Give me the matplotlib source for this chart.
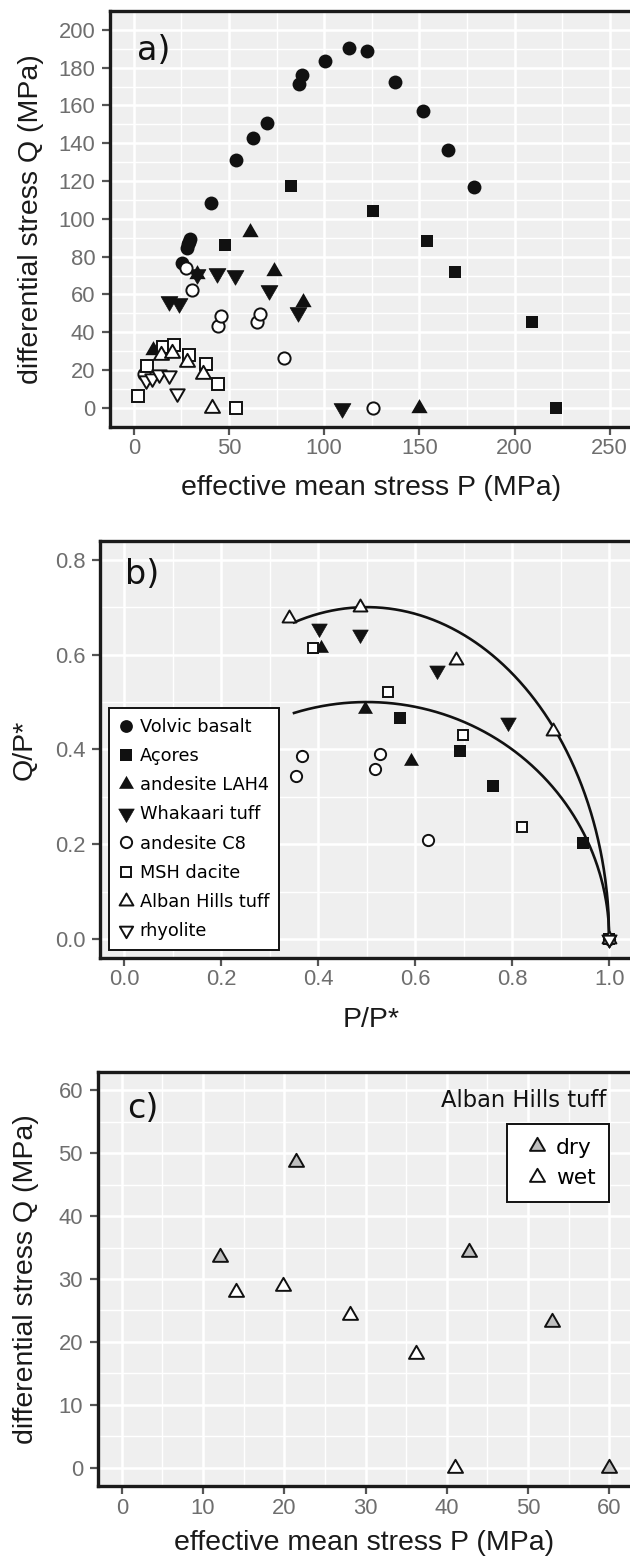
import numpy as np
import matplotlib
matplotlib.use("Agg")
from matplotlib import pyplot as plt
from matplotlib.path import Path

plt.rcParams['font.family'] = ['Liberation Sans', 'DejaVu Sans']

# ---- panel a: Q vs P (MPa)
volvic_P = [25.4, 27.8, 28.3, 29.0, 29.7, 40.7, 53.7, 62.4, 70.0, 86.9, 88.3, 100.6, 113.1, 122.4, 137.2, 152.1, 165.2, 178.5]
volvic_Q = [76.5, 84.5, 86.5, 88.0, 89.5, 108.5, 131.4, 142.8, 150.9, 171.5, 175.9, 183.3, 190.3, 188.7, 172.4, 157.2, 136.3, 116.8]
acores_P = [48.1, 82.7, 125.5, 153.9, 168.5, 209.4, 221.7]
acores_Q = [86.2, 117.3, 104.3, 88.4, 72.1, 45.2, 0]
lah4_P = [10.2, 33.2, 60.8, 73.9, 88.8, 149.8]
lah4_Q = [30.8, 70.8, 92.8, 72.5, 55.8, 0]
whakaari_P = [18.4, 23.6, 33.2, 43.7, 53.3, 70.8, 86.5, 109.3]
whakaari_Q = [56.4, 55.4, 70.8, 71.2, 70.3, 62.1, 50.5, 0]
c8_P = [5.2, 27.5, 30.6, 44.3, 46.0, 64.7, 66.4, 78.7, 125.5]
c8_Q = [17.9, 74.2, 62.4, 43.4, 48.7, 45.2, 49.6, 26.4, 0]
msh_P = [2.1, 7.0, 15.4, 21.0, 29.2, 38.0, 44.0, 53.9]
msh_Q = [6.5, 22.0, 32.0, 33.0, 28.1, 23.2, 12.8, 0]
rhyo_P = [6.5, 9.6, 13.1, 18.4, 22.6]
rhyo_Q = [14.5, 16.0, 17.8, 17.3, 7.6]

# Alban Hills tuff (panel c, wet ones also in panel a)
alban_wet_P = [14.1, 19.9, 28.1, 36.2, 41.0]
alban_wet_Q = [27.9, 28.8, 24.2, 18.1, 0]
alban_dry_P = [12.1, 21.4, 42.7, 53.0, 60.0]
alban_dry_Q = [33.5, 48.6, 34.3, 23.2, 0]

# ---- panel b: normalised Q/P* vs P/P*
volvic_b_x, volvic_b_y = [], []
acores_b_x = [0.568, 0.693, 0.761, 0.946, 1.0]
acores_b_y = [0.467, 0.397, 0.323, 0.203, 0.0]
lah4_b_x = [0.406, 0.496, 0.592, 1.0]
lah4_b_y = [0.613, 0.485, 0.375, 0.0]
whakaari_b_x = [0.401, 0.4865, 0.644, 0.7905, 1.0]
whakaari_b_y = [0.657, 0.643, 0.567, 0.457, 0.0]
c8_b_x = [0.354, 0.367, 0.517, 0.528, 0.626, 1.0]
c8_b_y = [0.344, 0.386, 0.358, 0.391, 0.209, 0.0]
msh_b_x = [0.389, 0.544, 0.699, 0.820, 1.0]
msh_b_y = [0.613, 0.522, 0.431, 0.236, 0.0]
alban_b_x = [0.339, 0.486, 0.685, 0.883, 1.0]
alban_b_y = [0.677, 0.701, 0.589, 0.439, 0.0]
rhyo_b_x = [1.0]
rhyo_b_y = [0.0]

# elliptical caps: centre, heights, start
cap_centre = 0.5
cap_heights = [0.70, 0.50]
cap_start = 0.35

labels = ["Volvic basalt", "Açores", "andesite LAH4", "Whakaari tuff",
          "andesite C8", "MSH dacite", "Alban Hills tuff", "rhyolite"]

up = Path([(0, 1), (0.866, -0.5), (-0.866, -0.5), (0, 1)],
          [Path.MOVETO, Path.LINETO, Path.LINETO, Path.CLOSEPOLY])
down = Path([(0, -1), (0.866, 0.5), (-0.866, 0.5), (0, -1)],
            [Path.MOVETO, Path.LINETO, Path.LINETO, Path.CLOSEPOLY])

K = '#111111'
styles = [
    dict(marker='o', ms=10.0, mfc=K, mec=K, mew=0),
    dict(marker='s', ms=9.0, mfc=K, mec=K, mew=0),
    dict(marker=up, ms=13.5, mfc=K, mec=K, mew=0),
    dict(marker=down, ms=14.0, mfc=K, mec=K, mew=0.5),
    dict(marker='o', ms=8.8, mfc='white', mec=K, mew=1.4),
    dict(marker='s', ms=8.0, mfc='white', mec=K, mew=1.4),
    dict(marker=up, ms=12.5, mfc='white', mec=K, mew=1.4),
    dict(marker=down, ms=12.0, mfc='white', mec=K, mew=1.4),
]

W, H = 630, 1562
fig = plt.figure(figsize=(W / 100, H / 100), dpi=100)


def box(l, t, r, b):
    return [l / W, 1 - b / H, (r - l) / W, (b - t) / H]


def style(ax, xmaj, xmin, ymaj, ymin, xl, yl):
    ax.set_facecolor('#EFEFEF')
    ax.set_xticks(xmaj)
    ax.set_xticks(xmin, minor=True)
    ax.set_yticks(ymaj)
    ax.set_yticks(ymin, minor=True)
    ax.grid(which='major', color='white', lw=1.8)
    ax.grid(which='minor', color='white', lw=1.0)
    ax.set_axisbelow(True)
    ax.tick_params(which='minor', length=0)
    ax.tick_params(which='major', length=6, width=1.6, color='#555555',
                   labelsize=15.8, labelcolor='#6E6E6E')
    ax.tick_params(axis='x', pad=2)
    ax.tick_params(axis='y', pad=4.5)
    for s in ax.spines.values():
        s.set_linewidth(2.4)
        s.set_color('#1A1A1A')
    ax.set_xlim(*xl)
    ax.set_ylim(*yl)


# ---------------- a)
ax = fig.add_axes(box(110, 11, 633.5, 426.7))
style(ax, np.arange(0, 251, 50), np.arange(25, 251, 50),
      np.arange(0, 201, 20), np.arange(10, 201, 20), (-12.5, 262.5), (-10, 210))
series_a = [(volvic_P, volvic_Q), (acores_P, acores_Q), (lah4_P, lah4_Q),
            (whakaari_P, whakaari_Q), (c8_P, c8_Q), (msh_P, msh_Q),
            (alban_wet_P, alban_wet_Q), (rhyo_P, rhyo_Q)]
for (x, y), st in zip(series_a, styles):
    ax.plot(x, y, ls='none', zorder=3, **st)
ax.set_xlabel("effective mean stress P (MPa)", fontsize=20.5, color='#1A1A1A')
ax.set_ylabel("differential stress Q (MPa)", fontsize=20.5, color='#1A1A1A')
ax.xaxis.set_label_coords(0.498, -0.148)
ax.yaxis.set_label_coords(-0.151, 0.5)
ax.xaxis.label.set_va('center')
ax.yaxis.label.set_va('center')
ax.text(0.051, 0.906, "a)", transform=ax.transAxes, fontsize=24,
        family='DejaVu Sans', va='center', ha='left', color='#111111')

# ---------------- b)
ax = fig.add_axes(box(100, 540.7, 633.5, 958.3))
style(ax, np.arange(0, 1.01, 0.2), np.arange(0.1, 1.01, 0.2),
      np.arange(0, 0.81, 0.2), np.arange(0.1, 0.81, 0.2), (-0.05, 1.05), (-0.04, 0.84))
ax.xaxis.set_major_formatter(plt.FormatStrFormatter('%.1f'))
ax.yaxis.set_major_formatter(plt.FormatStrFormatter('%.1f'))
pp = np.linspace(cap_start, 1, 400)
for d in cap_heights:
    qq = d * np.sqrt(np.clip(1 - ((pp - cap_centre) / (1 - cap_centre)) ** 2, 0, None))
    ax.plot(pp, qq, color=K, lw=1.9, zorder=2)
series_b = [(volvic_b_x, volvic_b_y), (acores_b_x, acores_b_y), (lah4_b_x, lah4_b_y),
            (whakaari_b_x, whakaari_b_y), (c8_b_x, c8_b_y), (msh_b_x, msh_b_y),
            (alban_b_x, alban_b_y), (rhyo_b_x, rhyo_b_y)]
for (x, y), st, lab in zip(series_b, styles, labels):
    st = dict(st)
    st['ms'] = st['ms'] * 0.92
    ax.plot(x, y, ls='none', zorder=3, label=lab, **st)
leg = ax.legend(loc='lower left', bbox_to_anchor=(0.0174, 0.0199), borderaxespad=0,
                prop=dict(family='DejaVu Sans', size=12.8), frameon=True, fancybox=False,
                handlelength=0.8, handletextpad=0.36, borderpad=0.55, labelspacing=0.63,
                numpoints=1)
leg.get_frame().set_edgecolor('#111111')
leg.get_frame().set_linewidth(1.4)
leg.get_frame().set_alpha(1)
ax.set_xlabel("P/P*", fontsize=20.5, color='#1A1A1A')
ax.set_ylabel("Q/P*", fontsize=20.5, color='#1A1A1A')
ax.xaxis.set_label_coords(0.509, -0.148)
ax.yaxis.set_label_coords(-0.1406, 0.5)
ax.xaxis.label.set_va('center')
ax.yaxis.label.set_va('center')
ax.text(0.047, 0.918, "b)", transform=ax.transAxes, fontsize=24,
        family='DejaVu Sans', va='center', ha='left', color='#111111')

# ---------------- c)
ax = fig.add_axes(box(97.5, 1071.5, 633.5, 1486.4))
style(ax, np.arange(0, 61, 10), np.arange(5, 61, 10),
      np.arange(0, 61, 10), np.arange(5, 61, 10), (-3, 63), (-3, 63))
ax.plot(alban_dry_P, alban_dry_Q, ls='none', marker=up, ms=12.5, mfc='#BFBFBF',
        mec=K, mew=1.4, zorder=3, label='dry')
ax.plot(alban_wet_P, alban_wet_Q, ls='none', marker=up, ms=12.5, mfc='white',
        mec=K, mew=1.4, zorder=3, label='wet')
leg = ax.legend(loc='upper right', bbox_to_anchor=(0.9543, 0.8735), borderaxespad=0,
                prop=dict(family='DejaVu Sans', size=15.7), frameon=True, fancybox=False,
                handlelength=1.45, handletextpad=0.15, borderpad=0.62, labelspacing=0.5,
                numpoints=1)
leg.get_frame().set_edgecolor('#111111')
leg.get_frame().set_linewidth(1.4)
leg.get_frame().set_alpha(1)
ax.text(0.95, 0.929, "Alban Hills tuff", transform=ax.transAxes, fontsize=16.3,
        family='DejaVu Sans', va='center', ha='right', color='#111111')
ax.set_xlabel("effective mean stress P (MPa)", fontsize=20.5, color='#1A1A1A')
ax.set_ylabel("differential stress Q (MPa)", fontsize=20.5, color='#1A1A1A')
ax.xaxis.set_label_coords(0.498, -0.137)
ax.yaxis.set_label_coords(-0.133, 0.5)
ax.xaxis.label.set_va('center')
ax.yaxis.label.set_va('center')
ax.text(0.0545, 0.911, "c)", transform=ax.transAxes, fontsize=24,
        family='DejaVu Sans', va='center', ha='left', color='#111111')

fig.savefig("out.png", dpi=100)
